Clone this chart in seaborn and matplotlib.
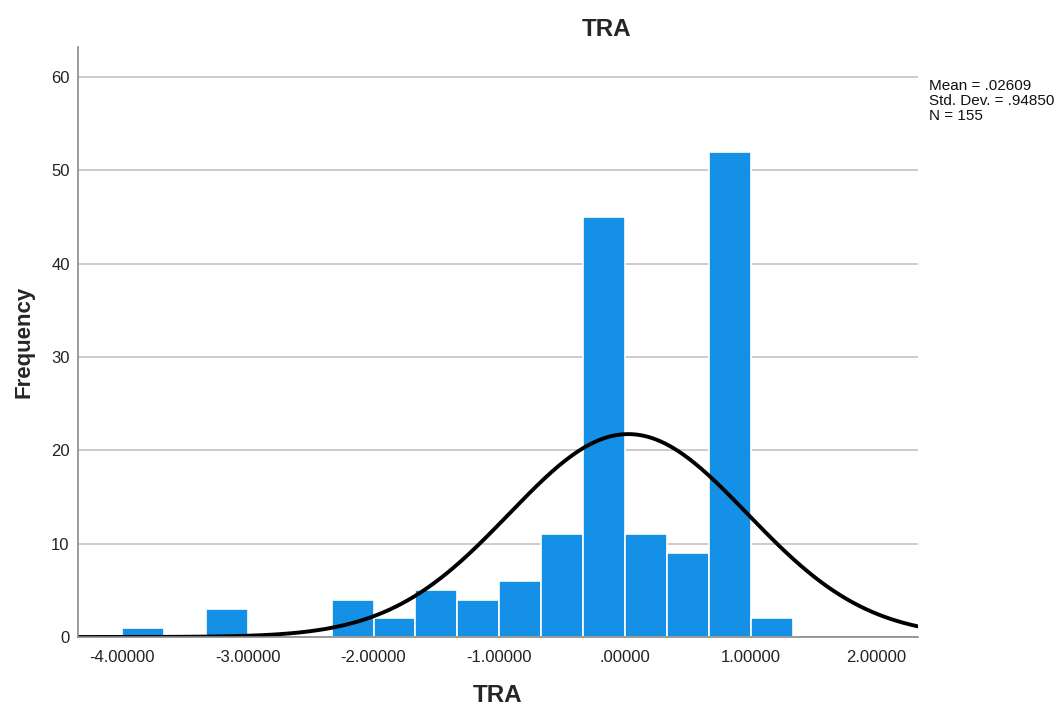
import numpy as np
import pandas as pd
import matplotlib
matplotlib.use("Agg")
import matplotlib.pyplot as plt
import seaborn as sns

# ---- data ----
bin_start = -4.0
bin_width = 0.3334
counts = [1, 0, 3, 0, 0, 4, 2, 5, 4, 6, 11, 45, 11, 9, 52, 2]
mean_val = 0.02609
sd_val = 0.94850
n_val = 155
xticks = [-4.0, -3.0, -2.0, -1.0, 0.0, 1.0, 2.0]
xtick_labels = ["-4.00000", "-3.00000", "-2.00000", "-1.00000", ".00000", "1.00000", "2.00000"]
yticks = [0, 10, 20, 30, 40, 50, 60]

edges = [float(bin_start + bin_width * i) for i in range(len(counts) + 1)]
centers = [(edges[i] + edges[i + 1]) / 2 for i in range(len(counts))]
df = pd.DataFrame({"TRA": centers, "count": counts})

sns.set_theme(style="white")
plt.rcParams["font.family"] = ["Liberation Sans", "DejaVu Sans"]

fig = plt.figure(figsize=(10.62, 7.08), dpi=100)
ax = fig.add_axes([78 / 1062, 1 - 637 / 708, (918 - 78) / 1062, (637 - 47) / 708])

xmin, xmax = -4.35, 2.33
ax.yaxis.grid(True, color="#c8c8c8", linewidth=1.3)
ax.set_axisbelow(True)

sns.histplot(data=df, x="TRA", weights="count", bins=edges, ax=ax,
             color="#1490E6", alpha=1.0, edgecolor="white", linewidth=1.2)

xs = np.linspace(xmin, xmax, 400)
ys = n_val * bin_width * np.exp(-0.5 * ((xs - mean_val) / sd_val) ** 2) / (sd_val * np.sqrt(2 * np.pi))
sns.lineplot(x=xs, y=ys, ax=ax, color="black", linewidth=2.8)

ax.set_xlim(xmin, xmax)
ax.set_ylim(0, 63.2)
ax.set_yticks(yticks)
ax.set_xticks(xticks)
ax.set_xticklabels(xtick_labels)
ax.tick_params(axis="both", length=0, labelsize=12, colors="#222222")
ax.tick_params(axis="x", pad=9)
ax.tick_params(axis="y", pad=6)

for s in ["top", "right"]:
    ax.spines[s].set_visible(False)
ax.spines["left"].set_color("#8a8a8a")
ax.spines["bottom"].set_color("#8a8a8a")
ax.spines["left"].set_linewidth(1.2)
ax.spines["bottom"].set_linewidth(1.2)

ax.set_xlabel("TRA", fontsize=17.5, fontweight="bold", labelpad=14)
ax.set_ylabel("Frequency", fontsize=16, fontweight="bold", labelpad=12)

fig.text(607 / 1062, 1 - 29 / 708, "TRA", fontsize=17.5, fontweight="bold",
         ha="center", va="center")

fig.text(929 / 1062, 1 - 79 / 708,
         "Mean = .02609\nStd. Dev. = .94850\nN = 155",
         fontsize=11, ha="left", va="top", linespacing=1.1, color="#111111")

fig.savefig("out.png", dpi=100)
